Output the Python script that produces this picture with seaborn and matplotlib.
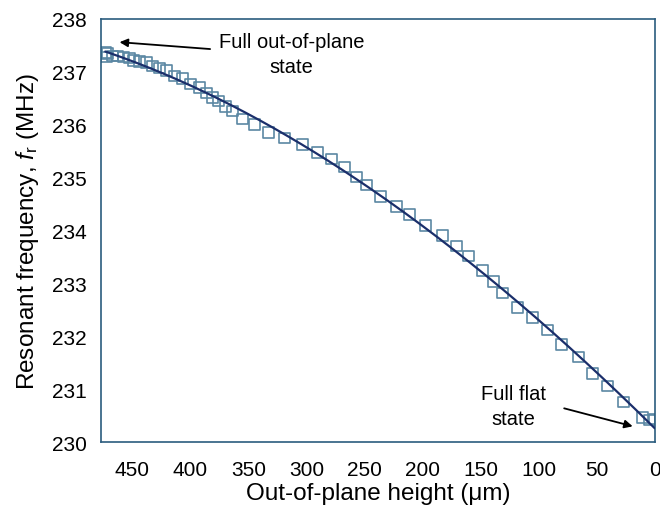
import numpy as np
import pandas as pd
import seaborn as sns
from matplotlib import pyplot as plt

# out-of-plane height (um) and resonant frequency (MHz)
height = [473.3, 472.4, 471.6, 467.2, 462.9, 457.8, 452.6, 449.1, 444.0, 437.9,
          432.8, 426.7, 420.7, 413.8, 406.9, 400.0, 392.2, 386.2, 381.0, 375.9,
          369.8, 363.8, 355.2, 344.8, 332.8, 319.0, 303.4, 290.5, 278.4, 267.2,
          256.9, 248.3, 236.2, 222.4, 211.2, 197.4, 182.8, 170.7, 160.3, 148.3,
          138.8, 131.0, 118.1, 105.2, 92.2, 80.2, 65.5, 53.4, 40.5, 26.7,
          10.3, 4.3, 0.0]
freq = [237.36, 237.28, 237.34, 237.30, 237.30, 237.28, 237.26, 237.22, 237.19, 237.17,
        237.11, 237.07, 237.02, 236.92, 236.87, 236.77, 236.71, 236.60, 236.52, 236.45,
        236.35, 236.26, 236.11, 236.00, 235.86, 235.75, 235.62, 235.47, 235.35, 235.20,
        235.01, 234.86, 234.65, 234.46, 234.31, 234.09, 233.90, 233.71, 233.52, 233.25,
        233.04, 232.82, 232.55, 232.36, 232.12, 231.85, 231.61, 231.30, 231.06, 230.76,
        230.46, 230.42, 230.44]

x_ticks = [450, 400, 350, 300, 250, 200, 150, 100, 50, 0]
y_ticks = [230, 231, 232, 233, 234, 235, 236, 237, 238]

sns.set_style('white')
plt.rcParams['font.family'] = ['Liberation Sans', 'DejaVu Sans']
plt.rcParams['mathtext.fontset'] = 'custom'
plt.rcParams['mathtext.rm'] = 'Liberation Sans'
plt.rcParams['mathtext.it'] = 'Liberation Sans:italic'
plt.rcParams['text.color'] = 'black'
plt.rcParams['axes.labelcolor'] = 'black'

data = pd.DataFrame({'height': height, 'freq': freq})

# polynomial trendline through the measured points
coef = np.polyfit(data['height'], data['freq'], 3)
fit = pd.DataFrame({'height': np.linspace(0, max(height), 200)})
fit['freq'] = np.polyval(coef, fit['height'])

fig = plt.figure(figsize=(6.6, 5.1), dpi=100)
ax = fig.add_axes([0.153, 0.131, 0.839, 0.830])

sns.scatterplot(data=data, x='height', y='freq', ax=ax, marker='s', s=60,
                facecolor='none', edgecolor='#5b87a3', linewidth=1.2, zorder=2)
sns.lineplot(data=fit, x='height', y='freq', ax=ax, color='#1b2f6b', lw=1.6, zorder=3)

ax.set_xlim(477, 0)
ax.set_ylim(230, 238)
ax.set_xticks(x_ticks)
ax.set_yticks(y_ticks)
ax.tick_params(direction='out', length=5, width=1, color='#2b5c7e',
               labelcolor='black', labelsize=15)
ax.tick_params(axis='x', pad=8)
ax.tick_params(axis='y', pad=5)
for s in ax.spines.values():
    s.set_color('#2b5c7e')
    s.set_linewidth(1.2)

ax.set_xlabel('Out-of-plane height (\u03bcm)', fontsize=17.5, labelpad=2)
ax.set_ylabel('Resonant frequency, $f_\\mathrm{r}$ (MHz)', fontsize=17.5, labelpad=8)

arrow = dict(arrowstyle='-|>', color='black', lw=1.3, mutation_scale=12, shrinkA=0, shrinkB=0)
ax.annotate('', xy=(461, 237.56), xytext=(383, 237.43), arrowprops=arrow)
ax.text(313, 237.34, 'Full out-of-plane\nstate', ha='center', va='center', fontsize=14.5,
        linespacing=1.4)
ax.annotate('', xy=(19, 230.30), xytext=(78, 230.64), arrowprops=arrow)
ax.text(122, 230.68, 'Full flat\nstate', ha='center', va='center', fontsize=14.5,
        linespacing=1.4)

fig.savefig('out.png', dpi=100)
